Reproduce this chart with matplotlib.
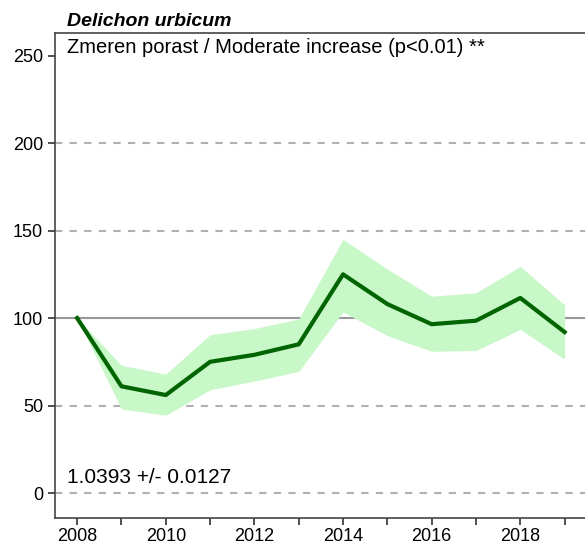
import numpy as np
import matplotlib.pyplot as plt

plt.rcParams['font.family'] = ['Liberation Sans', 'DejaVu Sans']

years = [2008, 2009, 2010, 2011, 2012, 2013, 2014, 2015, 2016, 2017, 2018, 2019]
index = [100, 61, 56, 75, 79, 85, 125, 108, 96.5, 98.5, 111.5, 92]
upper = [100, 73, 68, 90.5, 94, 99.5, 145, 128, 112.5, 114.5, 129.5, 107.5]
lower = [100, 48, 44.5, 59, 64, 69.5, 103.5, 90, 81, 81.5, 93.5, 76.5]

species = "Delichon urbicum"
trend = "Zmeren porast / Moderate increase (p<0.01) **"
slope = "1.0393 +/- 0.0127"

fig = plt.figure(figsize=(5.85, 5.48), dpi=100)
ax = fig.add_axes([0.094, 0.054, 0.906, 0.886])

for y in [0, 50, 150, 200]:
    ax.axhline(y, color='#b0b0b0', lw=1.5, ls=(0, (3.5, 3.5)), zorder=1)
ax.axhline(100, color='#999999', lw=1.5, zorder=1)

ax.fill_between(years, lower, upper, color='#c8f7c8', lw=0, zorder=2)
ax.plot(years, index, color='#006400', lw=3, zorder=3)

ax.set_xlim(2007.5, 2019.46)
ax.set_ylim(-14.5, 263)
ax.set_xticks(years)
ax.set_xticklabels([str(y) if y % 2 == 0 else '' for y in years])
ax.set_yticks([0, 50, 100, 150, 200, 250])
ax.tick_params(labelsize=13, length=5, width=1.2, color='#333333')
ax.tick_params(axis='x', pad=2)

ax.spines['right'].set_visible(False)
for s in ['left', 'top', 'bottom']:
    ax.spines[s].set_color('#444444')
    ax.spines[s].set_linewidth(1.2)

fig.text(0.115, 0.96, species, fontsize=14, fontweight='bold', fontstyle='italic',
         ha='left', va='center')
ax.text(0.022, 0.99, trend, transform=ax.transAxes, fontsize=14.5, ha='left', va='top')
ax.text(0.022, 0.085, slope, transform=ax.transAxes, fontsize=15, ha='left', va='center')

fig.savefig('out.png', dpi=100)
